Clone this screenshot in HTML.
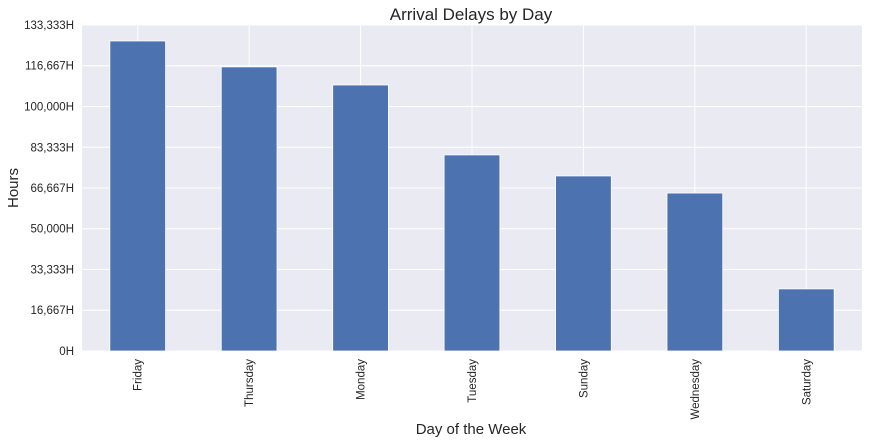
<!DOCTYPE html>
<html><head><meta charset="utf-8"><style>
html,body{margin:0;padding:0;background:#fff;}
svg{display:block;font-family:"Liberation Sans",Arial,sans-serif;}
</style></head><body>
<svg id="chart" width="870" height="443">
<rect x="82" y="25" width="780" height="326" fill="#EAEAF2"/>
<g id="grid"></g><g id="bars"></g><g id="yticks"></g><g id="xticks"></g>
<text x="471" y="20" text-anchor="middle" font-size="17" fill="#262626">Arrival Delays by Day</text>
<text x="471" y="434" text-anchor="middle" font-size="15" fill="#262626">Day of the Week</text>
<text transform="translate(18,188) rotate(-90)" text-anchor="middle" font-size="15" fill="#262626">Hours</text>
</svg>
<script>
const categories=["Friday","Thursday","Monday","Tuesday","Sunday","Wednesday","Saturday"];
const values=[126800,116200,108800,80200,71600,64600,25400];
const yTicks=[0,16667,33333,50000,66667,83333,100000,116667,133333];
const yTickLabels=["0H","16,667H","33,333H","50,000H","66,667H","83,333H","100,000H","116,667H","133,333H"];
const L=82,R=862,T=25,B=351,yMax=133333;
const x=i=>L+(i+0.5)*(R-L)/categories.length;
const bw=(R-L)/categories.length*0.5;
const y=v=>B-(v/yMax)*(B-T);
const NS="http://www.w3.org/2000/svg";
function mk(tag,attrs,parent,text){const e=document.createElementNS(NS,tag);for(const k in attrs)e.setAttribute(k,attrs[k]);if(text!==undefined)e.textContent=text;document.getElementById(parent).appendChild(e);return e;}
yTicks.forEach((t,i)=>{
 const g=mk("line",{x1:L,x2:R,y1:y(t),y2:y(t),stroke:"#fff","stroke-width":1},"grid");
 
 
 const l=mk("text",{x:L-8,y:y(t)+4,"text-anchor":"end","font-size":11.5,fill:"#262626"},"yticks",yTickLabels[i]);
 
 
});
categories.forEach((c,i)=>{
 const g=mk("line",{x1:x(i),x2:x(i),y1:T,y2:B,stroke:"#fff","stroke-width":1},"grid");
 
 
 const r=mk("rect",{x:x(i)-bw/2,y:y(values[i]),width:bw,height:B-y(values[i]),fill:"#4C72B0",stroke:"#fff","stroke-width":0.8},"bars");
 
 
 const l=mk("text",{transform:`translate(${x(i)+4},${B+8}) rotate(-90)`,"text-anchor":"end","font-size":11.5,fill:"#262626"},"xticks",c);
 
 
});
</script>
</body></html>
